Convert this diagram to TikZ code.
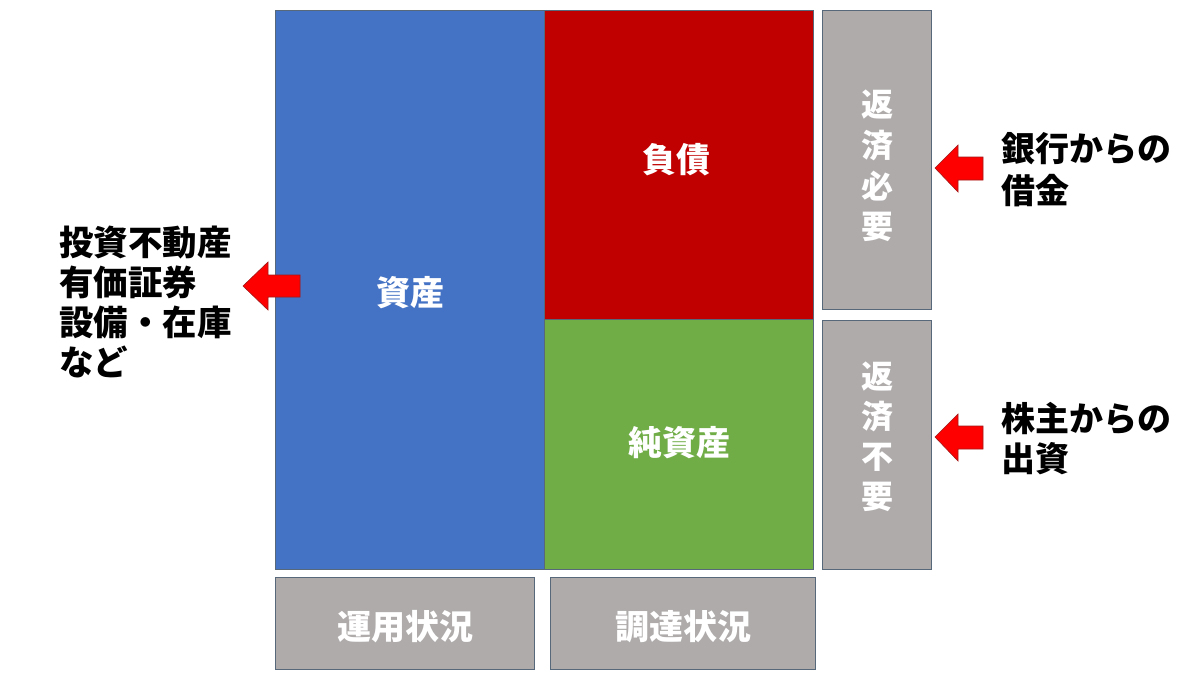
\documentclass[tikz,border=0pt]{standalone}
\usepackage{fontspec}
\setmainfont{Noto Sans CJK JP}
\definecolor{blueA}{HTML}{4472C4}
\definecolor{redA}{HTML}{C00000}
\definecolor{greenA}{HTML}{70AD47}
\definecolor{grayA}{HTML}{AFABAB}
\definecolor{edgeA}{HTML}{56687A}
\definecolor{arrowRed}{HTML}{FF0000}
\definecolor{arrowEdge}{HTML}{A01818}
\begin{document}
\begin{tikzpicture}[x=1pt,y=-1pt,
  box/.style={draw=edgeA,line width=0.8pt,inner sep=0pt,outer sep=0pt,
    text=white,font=\bfseries\fontsize{34}{40}\selectfont,align=center},
  lbl/.style={text=white,inner sep=0pt,font=\bfseries\fontsize{34}{40}\selectfont},
  vtext/.style={inner sep=0pt,text=white,align=center},
  side/.style={inner sep=0pt,text=black,align=left,anchor=west},
  redarrow/.style={fill=arrowRed,draw=arrowEdge,line width=0.6pt,line join=miter}]
\useasboundingbox (0,0) rectangle (1200,675);
\fill[white] (0,0) rectangle (1200,675);
% main boxes
\node[box,fill=blueA,minimum width=269pt,minimum height=559pt] (asset) at (409.5,289.5) {};
\node[box,fill=redA,minimum width=269pt,minimum height=309pt] (debt) at (678.5,164.5) {};
\node[box,fill=greenA,minimum width=269pt,minimum height=250pt] (equity) at (678.5,444) {};
\node[lbl] (assetT) at (410,293) {資産};
\node[lbl] (debtT) at (676,160) {負債};
\node[lbl] (equityT) at (679,443) {純資産};
% right gray boxes
\node[box,fill=grayA,minimum width=109pt,minimum height=299pt] (need) at (876.5,159.5) {};
\node[box,fill=grayA,minimum width=109pt,minimum height=249pt] (noneed) at (876.5,444.5) {};
\node[vtext,font=\bfseries\fontsize{32}{40.7}\selectfont] (needT) at (877,166) {返\\済\\必\\要};
\node[vtext,font=\bfseries\fontsize{32}{40}\selectfont] (noneedT) at (877,437) {返\\済\\不\\要};
% bottom gray boxes
\node[box,fill=grayA,minimum width=259pt,minimum height=92pt] (use) at (404.5,623) {};
\node[box,fill=grayA,minimum width=265pt,minimum height=92pt] (raise) at (682.5,623) {};
\node[lbl] (useT) at (405,627) {運用状況};
\node[lbl] (raiseT) at (683,627) {調達状況};
% side texts
\node[side,font=\bfseries\fontsize{34.5}{39.7}\selectfont] (leftT) at (59,302) {投資不動産\\有価証券\\設備・在庫\\など};
\node[side,font=\bfseries\fontsize{34}{42}\selectfont] (bankT) at (1001,170) {銀行からの\\借金};
\node[side,font=\bfseries\fontsize{34}{40}\selectfont] (shareT) at (1001,439) {株主からの\\出資};
% arrows
\draw[redarrow] (243,286) -- (268,262) -- (268,275) -- (300,275) -- (300,297) -- (268,297) -- (268,310) -- cycle;
\draw[redarrow] (935,168) -- (958,145) -- (958,157) -- (983,157) -- (983,180) -- (958,180) -- (958,192) -- cycle;
\draw[redarrow] (935,437) -- (958,414) -- (958,426) -- (983,426) -- (983,449) -- (958,449) -- (958,461) -- cycle;
\end{tikzpicture}
\end{document}
